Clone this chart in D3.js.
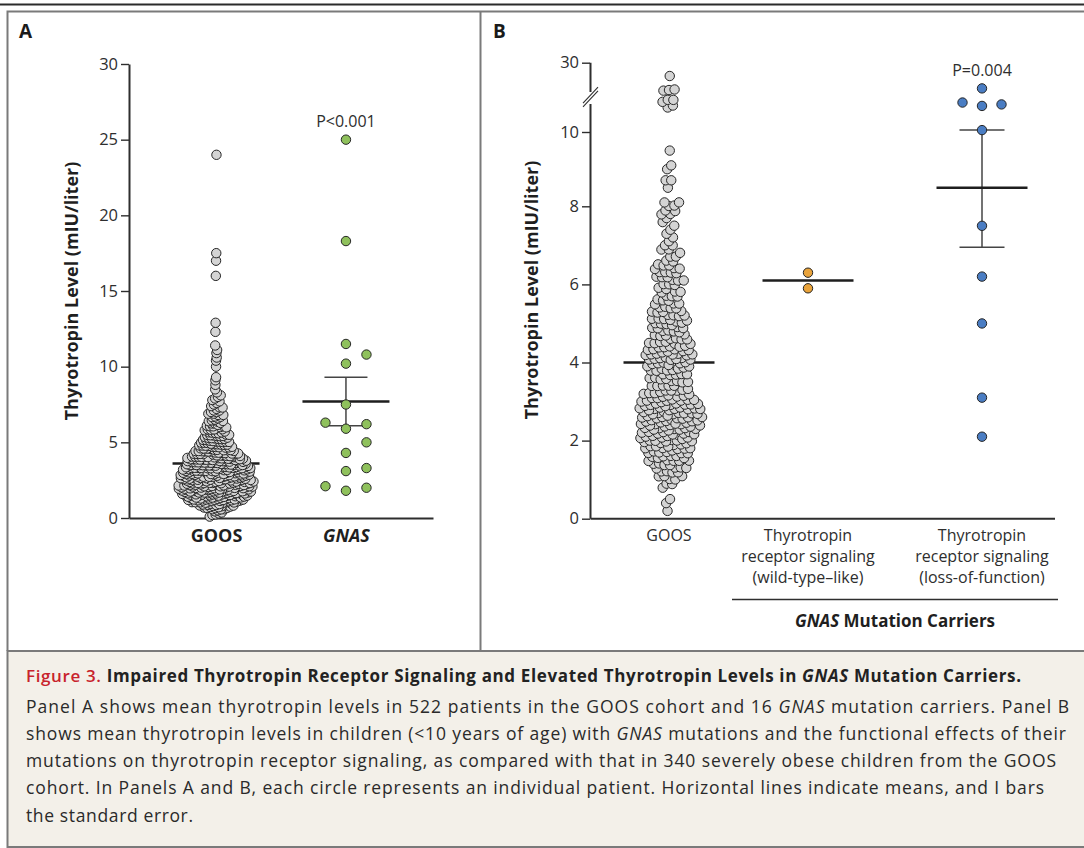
<!DOCTYPE html>
<html>
<head>
<meta charset="utf-8">
<script src="https://cdn.jsdelivr.net/npm/d3@7"></script>
<style>
  body { margin: 0; background: #fff; }
  svg { display: block; font-family: "Open Sans", "Noto Sans", sans-serif; }
</style>
</head>
<body>
<div id="chart"></div>
<script>
const width = 1084
const height = 848

// ---------- DATA ----------
// Panel A: thyrotropin (mIU/liter), GOOS cohort as [value, patients] read off the swarm (522)
const catsA = ["GOOS", "GNAS"]
const goosA = [
  [0.1,1],[0.2,1],[0.3,1],[0.4,1],[0.5,2],
  [0.6,2],[0.7,3],[0.8,4],[0.9,4],[1.0,5],
  [1.1,8],[1.2,9],[1.3,10],[1.4,10],[1.5,12],
  [1.6,12],[1.7,13],[1.8,13],[1.9,13],[2.0,14],
  [2.1,14],[2.2,14],[2.3,14],[2.4,14],[2.5,14],
  [2.6,14],[2.7,13],[2.8,13],[2.9,12],[3.0,11],
  [3.1,11],[3.2,11],[3.3,11],[3.4,11],[3.5,11],
  [3.6,10],[3.7,10],[3.8,10],[3.9,9],[4.0,9],
  [4.1,7],[4.2,7],[4.3,7],[4.4,6],[4.5,6],
  [4.6,5],[4.7,5],[4.8,5],[4.9,5],[5.0,5],
  [5.1,4],[5.2,4],[5.3,4],[5.4,4],[5.5,4],
  [5.6,4],[5.7,3],[5.8,3],[5.9,3],[6.0,3],
  [6.1,3],[6.2,3],[6.3,2],[6.4,2],[6.5,2],
  [6.6,2],[6.7,2],[6.8,2],[6.9,2],[7.0,2],
  [7.1,2],[7.2,1],[7.3,2],[7.4,1],[7.5,1],
  [7.6,1],[7.7,1],[7.8,1],[7.9,1],[8.0,1],
  [8.1,1],[8.3,1],[8.5,1],[8.8,1],[9.1,1],[9.3,1],[10.0,1],
  [10.4,1],[10.6,1],[10.9,1],[11.1,1],[11.4,1],[12.3,1],[12.9,1],
  [16.0,1],[17.0,1],[17.5,1],[24.0,1]
]
const gnasA = [25.0, 18.3, 11.5, 10.8, 10.2, 7.5, 6.3, 6.2, 5.9, 5.0, 4.3, 3.3, 3.1, 2.1, 2.0, 1.8]
const meanA = [3.6, 7.7]
const seA = [null, 1.6]
const ticksA = [0, 5, 10, 15, 20, 25, 30]

// Panel B: children <10 y, GOOS as [value, patients] (340)
const catsB = ["GOOS", "wild", "loss"]
const labelsB = [
  ["GOOS"],
  ["Thyrotropin", "receptor signaling", "(wild-type\u2013like)"],
  ["Thyrotropin", "receptor signaling", "(loss-of-function)"]
]
const goosB = [
  [0.2,1],[0.4,1],[0.5,1],
  [0.8,1],[0.9,2],[1.0,2],
  [1.1,3],[1.2,4],[1.3,4],[1.4,4],[1.5,5],
  [1.6,6],[1.7,6],[1.8,6],[1.9,7],[2.0,7],
  [2.1,8],[2.2,8],[2.3,8],[2.4,8],[2.5,9],
  [2.6,9],[2.7,9],[2.8,10],[2.9,9],[3.0,8],
  [3.1,6],[3.2,5],[3.3,5],[3.4,5],[3.5,4],
  [3.6,4],[3.7,5],[3.8,5],[3.9,5],[4.0,6],
  [4.1,8],[4.2,7],[4.3,7],[4.4,6],[4.5,5],
  [4.6,4],[4.7,4],[4.8,4],[4.9,4],[5.0,6],
  [5.1,5],[5.2,4],[5.3,4],[5.4,4],[5.5,3],
  [5.6,3],[5.7,3],[5.8,3],[5.9,2],[6.0,3],
  [6.1,3],[6.2,3],[6.3,4],[6.4,3],[6.5,3],
  [6.6,2],[6.7,2],[6.8,1],[6.9,2],[7.0,2],
  [7.1,1],[7.2,1],[7.3,1],[7.4,1],[7.5,1],
  [7.6,1],[7.7,1],[7.8,2],[7.9,2],[8.0,2],
  [8.1,2],[8.5,1],[8.7,2],[9.0,1],[9.1,1],[9.5,1],
  [10.65,1],[10.7,1],[10.8,1],[10.85,2],[14.9,1],[15.2,1],[15.5,1],[22.8,1]
]
const wildB = [6.3, 5.9]
const lossB = [16.1, 10.78, 10.73, 10.69, 10.05, 7.5, 6.2, 5.0, 3.1, 2.1]
const meanB = [4.0, 6.1, 8.5]
const seB = [null, null, 1.55]
const ticksB = [0, 2, 4, 6, 8, 10, 30]

const pA = "P<0.001"
const pB = "P=0.004"

// ---------- STYLE ----------
const ink = "#2e2e2e"
const frame = "#7a7a7a"
const fillGrey = "#d4d4d4"
const fillGreen = "#8fc15c"
const fillOrange = "#e9a33b"
const fillBlue = "#4a7dc3"
const rDot = 4.7

const svg = d3.select("#chart").append("svg")
  .attr("width", width)
  .attr("height", height)

// frames
svg.append("line").attr("x1", 0).attr("x2", width).attr("y1", 4.5).attr("y2", 4.5)
  .attr("stroke", "#2b2b2b").attr("stroke-width", 2)
svg.append("rect").attr("x", 7.5).attr("y", 651).attr("width", width).attr("height", 196)
  .attr("fill", "#f3f0e9").attr("stroke", frame).attr("stroke-width", 2)
svg.append("path").attr("d", "M7.5,651V11.5H1090M480.5,11.5V651")
  .attr("fill", "none").attr("stroke", frame).attr("stroke-width", 2)

svg.append("text").attr("x", 19).attr("y", 38).text("A")
  .attr("font-size", 19).attr("font-weight", 700).attr("fill", "#1a1a1a")
svg.append("text").attr("x", 493).attr("y", 38).text("B")
  .attr("font-size", 19).attr("font-weight", 700).attr("fill", "#1a1a1a")

// ---------- helpers ----------
const expand = pairs => pairs.flatMap(([v, n]) => d3.range(n).map(() => v))

// beeswarm for the big cohorts: y fixed by value, x pushed apart by collisions
function swarm(values, cx, y, rc) {
  const nodes = values.map((v, i) => ({ v, x: cx + ((i % 9) - 4) * rc, y: y(v) }))
  const sim = d3.forceSimulation(nodes)
    .force("x", d3.forceX(cx).strength(0.03))
    .force("y", d3.forceY(d => y(d.v)).strength(0.9))
    .force("collide", d3.forceCollide(rc).iterations(3))
    .stop()
  for (let i = 0; i < 400; ++i) sim.tick()
  return nodes
}

// small groups: points side by side in slots when they would overlap
function slots(values, cx, y, step, minDy) {
  const placed = []
  values.slice().sort((a, b) => a - b).forEach(v => {
    const py = y(v)
    for (const k of [0, 1, -1, 2, -2]) {
      const px = cx + k * step
      if (!placed.some(p => Math.abs(p.x - px) < step * 0.5 && Math.abs(p.y - py) < minDy)) {
        placed.push({ v, x: px, y: py })
        break
      }
    }
  })
  return placed
}

function styleAxisText(g, size) {
  g.attr("font-family", null).attr("font-size", null)
  g.selectAll(".tick text").attr("font-size", size).attr("fill", ink)
  g.selectAll(".tick line").attr("stroke", ink).attr("stroke-width", 1.4)
  g.select(".domain").attr("stroke", ink).attr("stroke-width", 2)
}

function meanBar(g, cx, y, mean, se, half, capHalf) {
  if (se != null) {
    g.append("line").attr("x1", cx).attr("x2", cx).attr("y1", y(mean + se)).attr("y2", y(mean - se))
      .attr("stroke", "#444").attr("stroke-width", 1.5)
    ;[mean + se, mean - se].forEach(v => {
      g.append("line").attr("x1", cx - capHalf).attr("x2", cx + capHalf).attr("y1", y(v)).attr("y2", y(v))
        .attr("stroke", "#444").attr("stroke-width", 1.5)
    })
  }
  g.append("line").attr("x1", cx - half).attr("x2", cx + half).attr("y1", y(mean)).attr("y2", y(mean))
    .attr("stroke", "#1e1e1e").attr("stroke-width", 2.6)
}

function dots(g, nodes, fill) {
  g.selectAll(null).data(nodes).enter().append("circle")
    .attr("cx", d => d.x).attr("cy", d => d.y).attr("r", rDot)
    .attr("fill", fill).attr("stroke", "#262626").attr("stroke-width", 1)
}

function yTitle(x, y) {
  svg.append("text")
    .attr("transform", `translate(${x},${y}) rotate(-90)`)
    .attr("text-anchor", "middle").attr("dy", "0.35em")
    .attr("font-size", 18).attr("font-weight", 700).attr("fill", "#1f1f1f")
    .text("Thyrotropin Level (mIU/liter)")
}

// ---------- PANEL A ----------
const yA = d3.scaleLinear().domain([0, 30]).range([518, 64])
const xA = d3.scalePoint().domain(catsA).range([129, 433]).padding(0.67)
const gA = svg.append("g")

gA.append("g").attr("transform", "translate(129,0)")
  .call(d3.axisLeft(yA).tickValues(ticksA).tickSize(8).tickSizeOuter(0).tickPadding(3))
  .call(g => styleAxisText(g, 16.5))

gA.append("g").attr("transform", "translate(0,518)")
  .call(d3.axisBottom(xA).tickSize(0).tickSizeOuter(0).tickPadding(11))
  .call(g => styleAxisText(g, 18))
  .call(g => g.selectAll(".tick text").attr("font-weight", 700).attr("fill", "#1f1f1f")
    .attr("font-style", d => d === "GNAS" ? "italic" : null))

yTitle(72, 291)

const linesA = gA.append("g")
catsA.forEach((c, i) => meanBar(linesA, xA(c), yA, meanA[i], seA[i], 43.5, 21.5))
dots(gA.append("g"), swarm(expand(goosA), xA("GOOS"), yA, 1.6), fillGrey)
dots(gA.append("g"), slots(gnasA, xA("GNAS"), yA, 20.5, 11), fillGreen)

gA.append("text").attr("x", xA("GNAS")).attr("y", 127).attr("text-anchor", "middle")
  .attr("font-size", 16).attr("fill", ink).text(pA)

// ---------- PANEL B ----------
const axisBx = 590.5
// broken axis: linear 0-10.9, compressed segment up to 30
const yB = d3.scaleLinear().domain([0, 8, 10, 10.9, 30]).range([518.7, 206.3, 132, 98, 62.7])
const xB = d3.scaleOrdinal().domain(catsB).range([669, 808, 982])
const gB = svg.append("g")

gB.append("g").attr("transform", `translate(${axisBx - 0.5},0)`)
  .call(d3.axisLeft(yB).tickValues(ticksB).tickSize(8).tickSizeOuter(0).tickPadding(3))
  .call(g => styleAxisText(g, 16.5))
  .call(g => g.select(".domain").remove())

gB.append("path")
  .attr("d", `M${axisBx},${yB(0)}V104M${axisBx},92V${yB(30)}M${axisBx},${yB(0)}H1055`)
  .attr("fill", "none").attr("stroke", ink).attr("stroke-width", 2)
// break marks
const brk = [[583, 105], [598, 89]]
gB.append("path")
  .attr("d", `M${brk[0][0]},${brk[0][1] - 1.8}L${brk[1][0]},${brk[1][1] - 1.8}L${brk[1][0]},${brk[1][1] + 1.8}L${brk[0][0]},${brk[0][1] + 1.8}Z`)
  .attr("fill", "#fff")
;[-1.8, 1.8].forEach(o => {
  gB.append("line").attr("x1", brk[0][0]).attr("y1", brk[0][1] + o).attr("x2", brk[1][0]).attr("y2", brk[1][1] + o)
    .attr("stroke", ink).attr("stroke-width", 1.1)
})

yTitle(532, 290)

const linesB = gB.append("g")
catsB.forEach((c, i) => meanBar(linesB, xB(c), yB, meanB[i], seB[i], 45.5, 22.5))
dots(gB.append("g"), swarm(expand(goosB), xB("GOOS"), yB, 2.8), fillGrey)
dots(gB.append("g"), slots(wildB, xB("wild"), yB, 19.5, 11), fillOrange)
dots(gB.append("g"), slots(lossB, xB("loss"), yB, 19.5, 11), fillBlue)

gB.append("text").attr("x", xB("loss")).attr("y", 76).attr("text-anchor", "middle")
  .attr("font-size", 16).attr("fill", ink).text(pB)

// category labels
catsB.forEach((c, i) => {
  const t = gB.append("text").attr("text-anchor", "middle").attr("font-size", 16).attr("fill", ink)
  labelsB[i].forEach((line, j) => {
    t.append("tspan").attr("x", xB(c)).attr("y", 541 + j * 21).text(line)
  })
})
gB.append("line").attr("x1", 732).attr("x2", 1058).attr("y1", 599.5).attr("y2", 599.5)
  .attr("stroke", ink).attr("stroke-width", 1.5)
const carriers = gB.append("text").attr("x", (xB("wild") + xB("loss")) / 2).attr("y", 627)
  .attr("text-anchor", "middle").attr("font-size", 17).attr("font-weight", 700).attr("fill", "#1f1f1f")
carriers.append("tspan").attr("font-style", "italic").text("GNAS")
carriers.append("tspan").text(" Mutation Carriers")

// ---------- CAPTION ----------
const capTitle = [
  ["Figure 3.", "red"],
  [" Impaired Thyrotropin Receptor Signaling and Elevated Thyrotropin Levels in ", "b"],
  ["GNAS", "bi"],
  [" Mutation Carriers.", "b"]
]
const capLines = [
  [["Panel A shows mean thyrotropin levels in 522 patients in the GOOS cohort and 16 ", ""], ["GNAS", "i"], [" mutation carriers. Panel B", ""]],
  [["shows mean thyrotropin levels in children (<10 years of age) with ", ""], ["GNAS", "i"], [" mutations and the functional effects of their", ""]],
  [["mutations on thyrotropin receptor signaling, as compared with that in 340 severely obese children from the GOOS", ""]],
  [["cohort. In Panels A and B, each circle represents an individual patient. Horizontal lines indicate means, and I bars", ""]],
  [["the standard error.", ""]]
]
const capEnds = [1069, 1066, 1056, 1044, 193]

function captionLine(parts, y, endX, size) {
  const t = svg.append("text").attr("x", 26).attr("y", y).attr("font-size", size).attr("fill", "#2a2a2a")
  parts.forEach(([s, k]) => {
    const ts = t.append("tspan").text(s)
    if (k === "red") ts.attr("fill", "#c8232c").attr("font-weight", 600)
    if (k.includes("b")) ts.attr("font-weight", 700).attr("fill", "#222")
    if (k.includes("i")) ts.attr("font-style", "italic")
  })
  const n = parts.map(p => p[0]).join("").length
  const w = t.node().getComputedTextLength()
  t.attr("letter-spacing", ((endX - 26) - w) / (n - 1))
}
captionLine(capTitle, 682, 1021, 17)
capLines.forEach((parts, i) => captionLine(parts, 712.5 + i * 27.3, capEnds[i], 17.5))
</script>
</body>
</html>
